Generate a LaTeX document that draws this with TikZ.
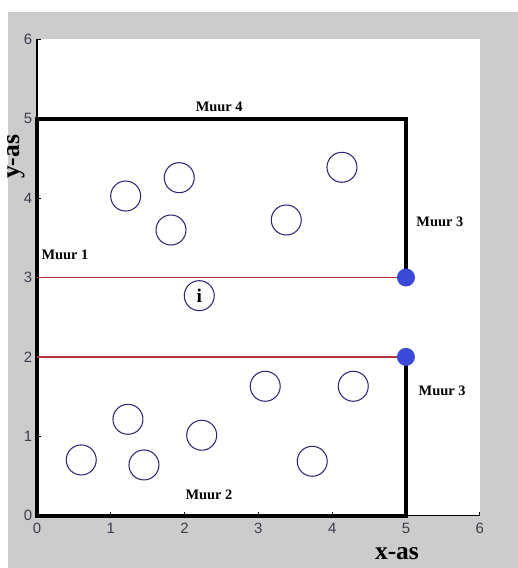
\documentclass[tikz,border=0pt]{standalone}
\usepackage{fontspec}
\setmainfont{Liberation Serif}
\setsansfont{Liberation Sans}
\usepackage{tikz}

\definecolor{achtergrond}{RGB}{204,204,204}
\definecolor{rand}{RGB}{45,40,115}
\definecolor{stip}{RGB}{58,74,214}
\definecolor{grens}{RGB}{185,50,60}
\definecolor{getalkleur}{RGB}{60,60,75}

\begin{document}
\begin{tikzpicture}[x=1.476cm,y=1.588cm,
  deeltje/.style={circle,draw=rand,line width=0.6pt,minimum size=0.6cm,inner sep=0pt},
  stipje/.style={circle,fill=stip,minimum size=0.36cm,inner sep=0pt},
  muurlabel/.style={font=\bfseries\fontsize{8.2}{9}\selectfont},
  getal/.style={font=\sffamily\fontsize{8.5}{10}\selectfont,text=getalkleur},
  muur/.style={line width=2.4pt,line join=miter}]
\useasboundingbox (-0.501,-0.659) rectangle (6.518,6.495);
\fill[achtergrond] (-0.393,-0.659) rectangle (6.518,6.344);
\fill[white] (0,0) rectangle (6,6);

% assen
\draw[line width=0.7pt] (0,6) -- (0,0) -- (6,0);
\foreach \i in {0,...,6} {
  \draw[line width=0.6pt] (\i,0) -- ++(0,0.08cm);
  \draw[line width=0.6pt] (0,\i) -- ++(0.08cm,0);
  \node[getal] (xt\i) at (\i,-0.155) {\i};
  \node[getal] (yt\i) at (-0.122,\i) {\i};
}
\node[font=\bfseries\fontsize{14.5}{16}\selectfont] (xas) at (4.878,-0.482) {x-as};
\node[font=\bfseries\fontsize{14.5}{16}\selectfont,rotate=90] (yas) at (-0.285,4.518) {y-as};

% muren
\draw[muur] (5,3) -- (5,5) -- (0,5) -- (0,0) -- (5,0) -- (5,2);
\node[stipje] (s3) at (5,3) {};
\node[stipje] (s2) at (5,2) {};
\draw[grens,line width=0.8pt] (0,3) -- (s3);
\draw[grens,line width=0.8pt] (0,2) -- (s2);

\node[muurlabel] (muur4) at (2.47,5.15) {Muur 4};
\node[muurlabel] (muur3a) at (5.46,3.70) {Muur 3};
\node[muurlabel] (muur1) at (0.38,3.28) {Muur 1};
\node[muurlabel] (muur3b) at (5.49,1.57) {Muur 3};
\node[muurlabel] (muur2) at (2.33,0.26) {Muur 2};

% deeltjes
\node[deeltje] (d1) at (1.202,4.026) {};
\node[deeltje] (d2) at (1.928,4.257) {};
\node[deeltje] (d3) at (1.816,3.598) {};
\node[deeltje] (d4) at (4.133,4.388) {};
\node[deeltje] (d5) at (3.378,3.724) {};
\node[deeltje,font=\bfseries\fontsize{11}{12}\selectfont] (di) at (2.199,2.771) {i};
\node[deeltje] (d7) at (1.233,1.214) {};
\node[deeltje] (d8) at (0.600,0.702) {};
\node[deeltje] (d9) at (1.450,0.639) {};
\node[deeltje] (d10) at (2.232,1.013) {};
\node[deeltje] (d11) at (3.093,1.630) {};
\node[deeltje] (d12) at (4.286,1.630) {};
\node[deeltje] (d13) at (3.730,0.685) {};
\end{tikzpicture}
\end{document}
